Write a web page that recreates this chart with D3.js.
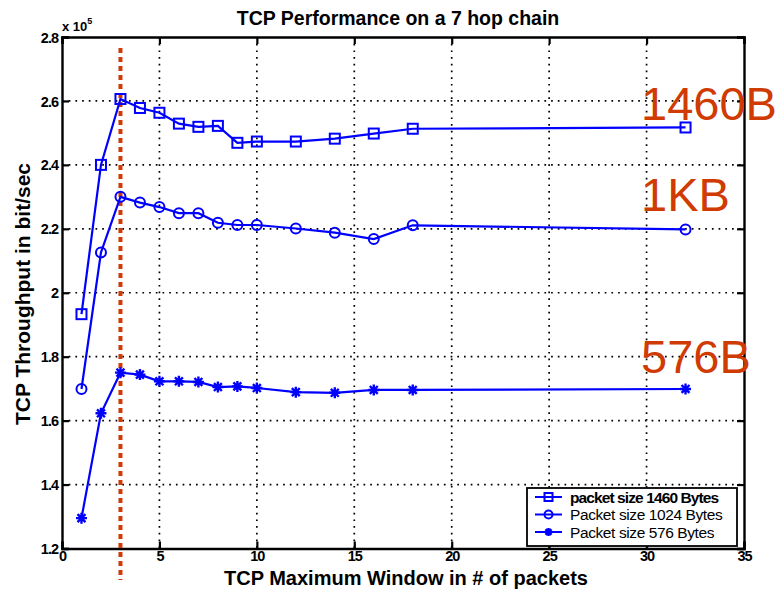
<!DOCTYPE html>
<html>
<head>
<meta charset="utf-8">
<script src="https://cdn.jsdelivr.net/npm/d3@7"></script>
<style>
  html, body { margin: 0; padding: 0; background: #fff; }
  svg { display: block; }
  text { font-family: "Liberation Sans", Arial, Helvetica, sans-serif; }
</style>
</head>
<body>
<svg id="chart" width="779" height="590"></svg>
<script>
// Window sizes (packets) used in the runs
const windowSizes = [1, 2, 3, 4, 5, 6, 7, 8, 9, 10, 12, 14, 16, 18, 32];

// Throughput in units of 1e5 bit/sec
const throughput1460 = [1.933, 2.400, 2.606, 2.578, 2.563, 2.529, 2.519, 2.522, 2.469, 2.473, 2.473, 2.482, 2.498, 2.513, 2.517];
const throughput1024 = [1.699, 2.126, 2.300, 2.282, 2.268, 2.249, 2.249, 2.219, 2.212, 2.212, 2.201, 2.188, 2.168, 2.211, 2.198];
const throughput576  = [1.295, 1.623, 1.750, 1.744, 1.723, 1.723, 1.721, 1.705, 1.707, 1.702, 1.689, 1.687, 1.696, 1.696, 1.699];

const seriesNames = ["packet size 1460 Bytes", "Packet size 1024 Bytes", "Packet size 576 Bytes"];
const seriesMarkers = ["square", "circle", "star"];
const sizeLabels = ["1460B", "1KB", "576B"];

const xTicks = [0, 5, 10, 15, 20, 25, 30, 35];
const yTicks = [1.2, 1.4, 1.6, 1.8, 2, 2.2, 2.4, 2.6, 2.8];
const optimalWindow = 3;

const svg = d3.select("#chart");
const plotLeft = 62, plotRight = 744, plotTop = 37, plotBottom = 548.5;
const x = d3.scaleLinear().domain([0, 35]).range([plotLeft, plotRight]);
const y = d3.scaleLinear().domain([1.2, 2.8]).range([plotBottom, plotTop]);

const blue = "#0000ff";
const red = "#d23a05";

// dotted grid
const grid = svg.append("g");
grid.selectAll(".gx").data(xTicks.slice(1, -1)).join("line")
  .attr("x1", d => x(d)).attr("x2", d => x(d))
  .attr("y1", plotTop).attr("y2", plotBottom)
  .attr("stroke", "#000").attr("stroke-width", 1.7)
  .attr("stroke-dasharray", "1.7,5");
grid.selectAll(".gy").data(yTicks.slice(1, -1)).join("line")
  .attr("x1", plotLeft).attr("x2", plotRight)
  .attr("y1", d => y(d)).attr("y2", d => y(d))
  .attr("stroke", "#000").attr("stroke-width", 1.7)
  .attr("stroke-dasharray", "1.7,5");

// axes (ticks inside, box frame)
const tickLen = 7;
const axisFont = "bold 14.5px 'Liberation Sans', Arial, sans-serif";
const gB = svg.append("g").attr("transform", `translate(0,${plotBottom})`)
  .call(d3.axisBottom(x).tickValues(xTicks).tickSize(-tickLen).tickPadding(2).tickFormat(d3.format("d")));
const gL = svg.append("g").attr("transform", `translate(${plotLeft},0)`)
  .call(d3.axisLeft(y).tickValues(yTicks).tickSize(-tickLen).tickPadding(4).tickFormat(d => d3.format("")(d)));
const gT = svg.append("g").attr("transform", `translate(0,${plotTop})`)
  .call(d3.axisTop(x).tickValues(xTicks).tickSize(-tickLen).tickFormat(""));
const gR = svg.append("g").attr("transform", `translate(${plotRight},0)`)
  .call(d3.axisRight(y).tickValues(yTicks).tickSize(-tickLen).tickFormat(""));
[gB, gL, gT, gR].forEach(g => {
  g.select(".domain").attr("stroke", "#000").attr("stroke-width", 2.4);
  g.selectAll(".tick line").attr("stroke", "#000").attr("stroke-width", 2.2);
  g.selectAll(".tick text").style("font", axisFont).attr("fill", "#000").style("letter-spacing", "-1px");
});
gL.selectAll(".tick text").attr("dy", "0.35em");

// exponent marker
const expo = svg.append("text").attr("x", 62).attr("y", 31)
  .style("font", "bold 13px 'Liberation Sans', Arial, sans-serif").attr("fill", "#000");
expo.append("tspan").text("x 10");
expo.append("tspan").attr("dy", -7).style("font-size", "9px").text("5");

// red dotted marker at the best window size
svg.append("line")
  .attr("x1", x(optimalWindow)).attr("x2", x(optimalWindow))
  .attr("y1", 48).attr("y2", 580)
  .attr("stroke", red).attr("stroke-width", 4)
  .attr("stroke-dasharray", "5,4");

// series
const allSeries = [throughput1460, throughput1024, throughput576];
const line = d3.line().x(d => x(d[0])).y(d => y(d[1]));

function marker(g, type, cx, cy, s) {
  if (type === "square") {
    g.append("rect").attr("x", cx - s / 2).attr("y", cy - s / 2)
      .attr("width", s).attr("height", s)
      .attr("fill", "none").attr("stroke", blue).attr("stroke-width", 2);
  } else if (type === "circle") {
    g.append("circle").attr("cx", cx).attr("cy", cy).attr("r", s / 2)
      .attr("fill", "none").attr("stroke", blue).attr("stroke-width", 2);
  } else {
    const r = s / 2, d = r * 0.72;
    g.append("path")
      .attr("d", `M${cx - r},${cy}H${cx + r}M${cx},${cy - r}V${cy + r}` +
                 `M${cx - d},${cy - d}L${cx + d},${cy + d}M${cx - d},${cy + d}L${cx + d},${cy - d}`)
      .attr("stroke", blue).attr("stroke-width", 2.4).attr("fill", "none");
  }
}

allSeries.forEach((vals, i) => {
  const pts = windowSizes.map((w, j) => [w, vals[j]]);
  const g = svg.append("g");
  g.append("path").attr("d", line(pts))
    .attr("fill", "none").attr("stroke", blue).attr("stroke-width", 2.2);
  pts.forEach(p => marker(g, seriesMarkers[i], x(p[0]), y(p[1]), i === 2 ? 11 : 10));
});

// packet size labels
const labelBaselines = [120, 211, 373];
sizeLabels.forEach((t, i) => {
  svg.append("text").attr("x", 641).attr("y", labelBaselines[i])
    .style("font", "47px 'Liberation Sans', Arial, sans-serif")
    .attr("fill", "#cf3b02").text(t);
});

// legend
const lg = svg.append("g");
lg.append("rect").attr("x", 527).attr("y", 488).attr("width", 210).attr("height", 58)
  .attr("fill", "#fff").attr("stroke", "#000").attr("stroke-width", 1.8);
seriesNames.forEach((name, i) => {
  const ly = 497 + i * 17.5;
  lg.append("line").attr("x1", 535).attr("x2", 562).attr("y1", ly).attr("y2", ly)
    .attr("stroke", blue).attr("stroke-width", 2);
  marker(lg, seriesMarkers[i], 548.5, ly, 8);
  lg.append("text").attr("x", 570).attr("y", ly).attr("dy", "0.36em")
    .style("font", `${i === 0 ? "bold " : ""}15.5px 'Liberation Sans', Arial, sans-serif`)
    .style("letter-spacing", i === 0 ? "-0.9px" : "-0.4px")
    .attr("fill", "#000").text(name);
});

// titles
svg.append("text").attr("x", 398).attr("y", 25).attr("text-anchor", "middle")
  .style("font", "bold 19.5px 'Liberation Sans', Arial, sans-serif").attr("fill", "#000")
  .text("TCP Performance on a 7 hop chain");
svg.append("text").attr("x", 406).attr("y", 585).attr("text-anchor", "middle")
  .style("font", "bold 20px 'Liberation Sans', Arial, sans-serif").attr("fill", "#000")
  .text("TCP Maximum Window in # of packets");
svg.append("text").attr("transform", "translate(30,294) rotate(-90)").attr("text-anchor", "middle")
  .style("font", "bold 21px 'Liberation Sans', Arial, sans-serif").attr("fill", "#000")
  .text("TCP Throughput in bit/sec");
</script>
</body>
</html>
